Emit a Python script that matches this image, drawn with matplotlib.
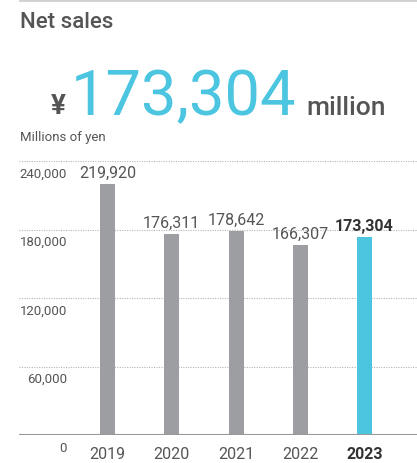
import matplotlib
matplotlib.use("Agg")
import matplotlib.pyplot as plt
from matplotlib.lines import Line2D
from matplotlib.transforms import blended_transform_factory

plt.rcParams['font.family'] = ['Roboto', 'DejaVu Sans']

# data
years = ['2019', '2020', '2021', '2022', '2023']
sales = [219920, 176311, 178642, 166307, 173304]
yticks = [0, 60000, 120000, 180000, 240000]
headline = '173,304'

GRAY = '#9d9ea2'
CYAN = '#4bc5e0'
TXT = '#555555'
DARK = '#333333'

W, H = 417, 464
fig = plt.figure(figsize=(W / 100, H / 100), dpi=100)

def fx(px):
    return px / W

def fy(py):
    return 1 - py / H

# top rule
fig.add_artist(Line2D([fx(20), 1], [fy(1), fy(1)], color='#d0d0d0', lw=2))

# header texts
fig.text(fx(20), fy(28), 'Net sales', fontsize=16, fontweight='medium', color=TXT,
         ha='left', va='baseline')
fig.text(fx(51), fy(114), '¥', fontsize=20, fontweight='bold', color=TXT,
         ha='left', va='baseline')
fig.text(fx(71), fy(115), headline, fontsize=45.5, color=CYAN,
         ha='left', va='baseline')
fig.text(fx(306), fy(115), 'million', fontsize=19, fontweight='medium', color=TXT,
         ha='left', va='baseline')
fig.text(fx(20), fy(141), 'Millions of yen', fontsize=9.5, color=TXT,
         ha='left', va='baseline')

# chart axes
left, right, top, bottom = 19, 417, 162, 436
ax = fig.add_axes([fx(left), fy(bottom), fx(right - left), (bottom - top) / H])
ax.set_ylim(0, 240000)
x = list(range(len(years)))
step = 64.25
ax.set_xlim((left - 107.5) / step, (right - 107.5) / step)

colors = [GRAY] * (len(years) - 1) + [CYAN]
ax.bar(x, sales, width=15 / step, color=colors, zorder=2)

for t in yticks[1:]:
    ax.axhline(t, color='#b5b5b5', lw=0.8, ls=(0, (1, 1.2)), zorder=1)
ax.axhline(0, color='#999999', lw=1.5, zorder=3)

for s in ax.spines.values():
    s.set_visible(False)
ax.set_xticks([])
ax.set_yticks([])

# y labels hang below their gridlines
ytr = blended_transform_factory(ax.transAxes, ax.transData)
lx = (67 - left) / (right - left)
for t in yticks:
    ax.annotate(f'{t:,}', (lx, t), xycoords=ytr, xytext=(0, -4),
                textcoords='offset points', ha='right', va='top',
                fontsize=9.5, color=TXT, annotation_clip=False)

# value labels and years
for i, (yr, v) in enumerate(zip(years, sales)):
    last = i == len(years) - 1
    ax.annotate(f'{v:,}', (i, v), xytext=(0, 3), textcoords='offset points',
                ha='center', va='bottom', fontsize=11.5,
                fontweight='bold' if last else 'normal',
                color=DARK if last else TXT, annotation_clip=False)
    ax.annotate(yr, (i, 0), xytext=(0, -8), textcoords='offset points',
                ha='center', va='top', fontsize=11.5,
                fontweight='bold' if last else 'normal',
                color=DARK if last else TXT, annotation_clip=False)

fig.savefig('out.png', dpi=100)
